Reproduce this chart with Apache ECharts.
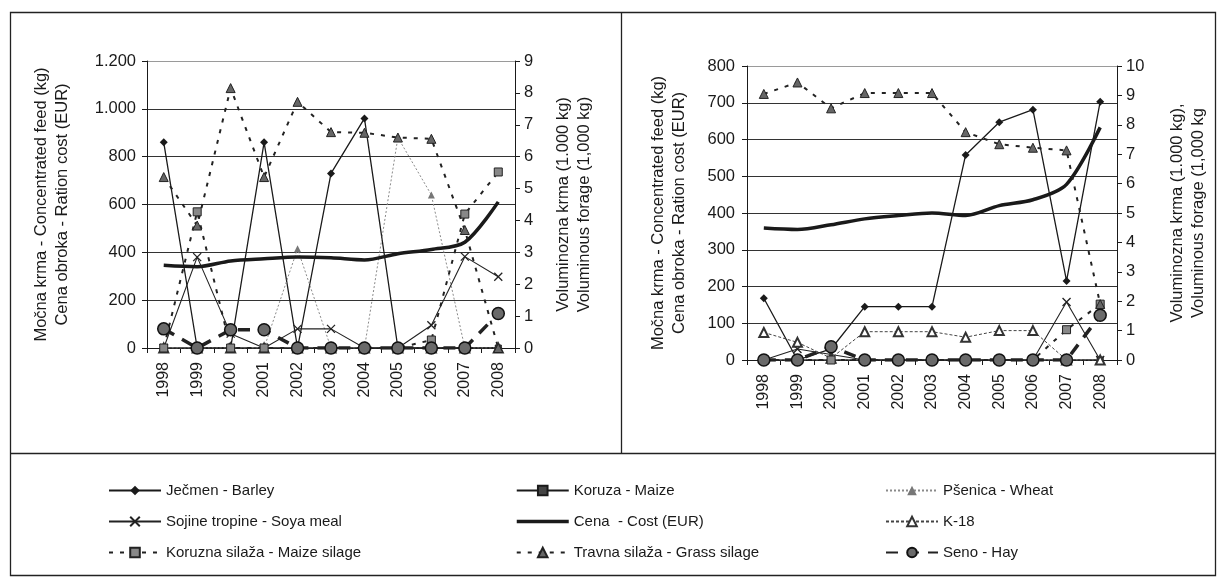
<!DOCTYPE html>
<html lang="sl">
<head>
    <meta charset="UTF-8">
    <title>Močna krma in voluminozna krma 1998-2008</title>
    <style>
        html, body { margin: 0; padding: 0; background: #fff; }
        #chart { width: 1219px; height: 580px; }
    </style>
</head>
<body>
<div id="chart"></div>
<script src="https://cdn.jsdelivr.net/npm/echarts@6/dist/echarts.min.js"></script>
<script>
    var years = ['1998', '1999', '2000', '2001', '2002', '2003', '2004', '2005', '2006', '2007', '2008'];

    // levi graf - kg / EUR (leva os)
    var barleyA = [860, 0, 0, 860, 0, 730, 960, 0, 0, 0, 0];
    var maizeA = [0, 0, 0, 0, 0, 0, 0, 0, 0, 0, 0];
    var wheatA = [0, 0, 0, 0, 415, 0, 0, 880, 640, 0, 0];
    var soyaA = [0, 380, 60, 0, 80, 80, 0, 0, 95, 382, 298];
    var costA = [346, 340, 364, 373, 380, 377, 368, 394, 412, 442, 611];
    var k18A = [0, 0, 0, 0, 0, 0, 0, 0, 0, 0, 0];
    // levi graf - 1.000 kg (desna os)
    var maizeSilageA = [0, 4.27, 0, 0, 0, 0, 0, 0, 0.25, 4.2, 5.52];
    var grassSilageA = [5.36, 3.84, 8.15, 5.36, 7.72, 6.77, 6.75, 6.6, 6.56, 3.7, 0];
    var hayA = [0.6, 0, 0.57, 0.57, 0, 0, 0, 0, 0, 0, 1.08];

    // desni graf - kg / EUR (leva os)
    var barleyB = [168, 0, 30, 145, 145, 145, 558, 647, 681, 215, 703];
    var maizeB = [0, 0, 0, 0, 0, 0, 0, 0, 0, 0, 0];
    var wheatB = [0, 0, 0, 0, 0, 0, 0, 0, 0, 0, 0];
    var soyaB = [0, 30, 15, 0, 0, 0, 0, 0, 0, 158, 0];
    var costB = [359, 355, 368, 384, 393, 400, 393, 420, 436, 478, 633];
    var k18B = [75, 48, 5, 77, 77, 77, 62, 80, 80, 0, 0];
    // desni graf - 1.000 kg (desna os)
    var maizeSilageB = [0, 0, 0, 0, 0, 0, 0, 0, 0, 1.03, 1.9];
    var grassSilageB = [9.05, 9.44, 8.56, 9.08, 9.08, 9.08, 7.75, 7.34, 7.22, 7.13, 1.9];
    var hayB = [0, 0, 0.45, 0, 0, 0, 0, 0, 0, 0, 1.52];

    var leftTicks = [0, 1200, 200];
    var rightTicksA = [0, 9, 1];
    var leftTicksB = [0, 800, 100];
    var rightTicksB = [0, 10, 1];

    var FONT = 'Liberation Sans';
    var INK = '#1a1a1a';

    var names = {
        barley: 'Ječmen - Barley',
        maize: 'Koruza - Maize',
        wheat: 'Pšenica - Wheat',
        soya: 'Sojine tropine - Soya meal',
        cost: 'Cena  - Cost (EUR)',
        k18: 'K-18',
        maizeSilage: 'Koruzna silaža - Maize silage',
        grassSilage: 'Travna silaža - Grass silage',
        hay: 'Seno - Hay'
    };

    var styles = {
        barley: {symbol: 'diamond', symbolSize: 8, lineStyle: {color: INK, width: 1.3}, itemStyle: {color: INK}},
        maize: {symbol: 'rect', symbolSize: 6, lineStyle: {color: INK, width: 1.3}, itemStyle: {color: '#444', borderColor: INK, borderWidth: 1}},
        wheat: {symbol: 'triangle', symbolSize: 7, lineStyle: {color: '#8a8a8a', width: 1, type: [2, 2]}, itemStyle: {color: '#777'}},
        soya: {symbol: 'path://M0,0L10,10M10,0L0,10', symbolSize: 8, lineStyle: {color: '#222', width: 1.1}, itemStyle: {color: 'transparent', borderColor: '#222', borderWidth: 1.3}},
        cost: {symbol: 'none', smooth: 0.3, lineStyle: {color: INK, width: 3.5}, itemStyle: {color: INK}},
        k18: {symbol: 'emptyTriangle', symbolSize: 9, lineStyle: {color: '#444', width: 1, type: [3, 2]}, itemStyle: {color: '#333', borderWidth: 1}},
        maizeSilage: {symbol: 'rect', symbolSize: 8, lineStyle: {color: '#222', width: 2, type: [4, 7]}, itemStyle: {color: '#888', borderColor: '#222', borderWidth: 1}},
        grassSilage: {symbol: 'triangle', symbolSize: 9, lineStyle: {color: '#222', width: 2, type: [4, 7]}, itemStyle: {color: '#666', borderColor: '#222', borderWidth: 1}},
        hay: {symbol: 'circle', symbolSize: 12, lineStyle: {color: '#222', width: 3.5, type: [12, 9]}, itemStyle: {color: '#6a6a6a', borderColor: '#111', borderWidth: 1.5}}
    };

    function mkSeries(key, data, idx, yIdx) {
        var s = {
            name: names[key],
            type: 'line',
            xAxisIndex: idx,
            yAxisIndex: yIdx,
            data: data,
            animation: false,
            showSymbol: true
        };
        var st = styles[key];
        for (var k in st) s[k] = st[k];
        return s;
    }

    function thousand(v) {
        return v >= 1000 ? String(v).replace(/(\d)(\d{3})$/, '$1.$2') : String(v);
    }

    // zgornja mrezna crta je svetlejsa (pikcasta v izvirniku)
    function gridColors(ticks) {
        var n = Math.round((ticks[1] - ticks[0]) / ticks[2]) + 1;
        var c = [];
        for (var i = 0; i < n; i++) c.push(i === n - 1 ? '#9a9a9a' : '#333');
        return c;
    }

    function yAx(grid, ticks, pos, name, gap, margin, fmt) {
        return {
            type: 'value',
            gridIndex: grid,
            position: pos,
            min: ticks[0], max: ticks[1], interval: ticks[2],
            name: name,
            nameLocation: 'middle',
            nameRotate: 90,
            nameGap: gap,
            nameTextStyle: {fontFamily: FONT, fontSize: 16.5, color: INK, lineHeight: 21},
            axisLine: {show: true, lineStyle: {color: INK, width: 1}},
            axisTick: {show: true, length: 5, lineStyle: {color: INK}},
            axisLabel: {fontFamily: FONT, fontSize: 16.5, color: INK, margin: margin, formatter: fmt},
            splitLine: {show: pos === 'left', lineStyle: {color: gridColors(ticks), width: 1}}
        };
    }

    function xAx(grid) {
        return {
            type: 'category',
            gridIndex: grid,
            data: years,
            boundaryGap: true,
            axisLine: {lineStyle: {color: INK, width: 1}},
            axisTick: {show: true, length: 5, lineStyle: {color: INK}},
            axisLabel: {fontFamily: FONT, fontSize: 16, color: INK, rotate: 90, margin: 14}
        };
    }

    var keysL = ['barley', 'maize', 'wheat', 'soya', 'k18', 'cost'];
    var keysR = ['maizeSilage', 'grassSilage', 'hay'];
    var dataA = {barley: barleyA, maize: maizeA, wheat: wheatA, soya: soyaA, cost: costA, k18: k18A,
                 maizeSilage: maizeSilageA, grassSilage: grassSilageA, hay: hayA};
    var dataB = {barley: barleyB, maize: maizeB, wheat: wheatB, soya: soyaB, cost: costB, k18: k18B,
                 maizeSilage: maizeSilageB, grassSilage: grassSilageB, hay: hayB};

    var series = [];
    keysL.forEach(function (k) { series.push(mkSeries(k, dataA[k], 0, 0)); });
    keysR.forEach(function (k) { series.push(mkSeries(k, dataA[k], 0, 1)); });
    keysL.forEach(function (k) { series.push(mkSeries(k, dataB[k], 1, 2)); });
    keysR.forEach(function (k) { series.push(mkSeries(k, dataB[k], 1, 3)); });

    var legendText = {fontFamily: FONT, fontSize: 15, color: INK};
    function lg(list, x) {
        return {
            data: list.map(function (k) {
                // cena nima oznake, samo debelo crto
                return k === 'cost' ? {name: names[k], itemStyle: {opacity: 0}, lineStyle: {width: 3.5}} : names[k];
            }),
            orient: 'vertical',
            left: x, top: 478,
            itemWidth: 52, itemHeight: 12, itemGap: 16,
            selectedMode: false,
            textStyle: legendText
        };
    }

    var chart = echarts.init(document.getElementById('chart'));
    chart.setOption({
        backgroundColor: '#fff',
        animation: false,
        grid: [
            {left: 147, top: 61, width: 368, height: 287},
            {left: 747, top: 66, width: 370, height: 294}
        ],
        xAxis: [xAx(0), xAx(1)],
        yAxis: [
            yAx(0, leftTicks, 'left', 'Močna krma - Concentrated feed (kg)\nCena obroka - Ration cost (EUR)', 74, 11, thousand),
            yAx(0, rightTicksA, 'right', 'Voluminozna krma (1.000 kg)\nVoluminous forage (1,000 kg)', 38, 9),
            yAx(1, leftTicksB, 'left', 'Močna krma - Concentrated feed (kg)\nCena obroka - Ration cost (EUR)', 57, 12, thousand),
            yAx(1, rightTicksB, 'right', 'Voluminozna krma (1.000 kg),\nVoluminous forage (1,000 kg', 50, 9)
        ],
        legend: [
            lg(['barley', 'soya', 'maizeSilage'], 103),
            lg(['maize', 'cost', 'grassSilage'], 510),
            lg(['wheat', 'k18', 'hay'], 880)
        ],
        graphic: [
            {type: 'rect', shape: {x: 10.5, y: 12.5, width: 1205, height: 563}, style: {fill: 'none', stroke: '#222', lineWidth: 1.3}},
            {type: 'line', shape: {x1: 621.5, y1: 12, x2: 621.5, y2: 453}, style: {stroke: '#222', lineWidth: 1.3}},
            {type: 'line', shape: {x1: 10, y1: 453.5, x2: 1216, y2: 453.5}, style: {stroke: '#222', lineWidth: 1.3}}
        ],
        series: series
    });
</script>
</body>
</html>
